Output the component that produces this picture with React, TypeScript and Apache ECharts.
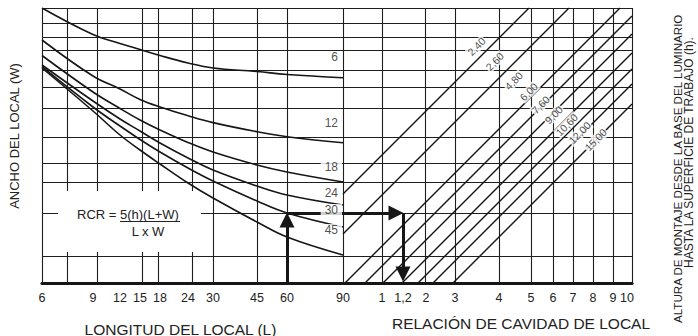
import React, { useEffect, useRef } from 'react';
import * as echarts from 'echarts';

// ---------- printed scales ----------
const lengthTicks = [6, 9, 12, 15, 18, 24, 30, 45, 60, 90];
const rcrTicks = [1, 1.2, 2, 3, 4, 5, 6, 7, 8, 9, 10];
const rcrTickText = ['1', '1,2', '2', '3', '4', '5', '6', '7', '8', '9', '10'];

// ---------- room-width curves (W), height read at each printed length tick ----------
const widthCurveNames = ['6', '12', '18', '24', '30', '45'];
const curveW6 = [275, 248.5, 239.5, 233.5, 227.5, 220, 215, 211.5, 208.5, 205.3];
const curveW12 = [243, 207, 194, 183.5, 176, 167.3, 160.4, 151.3, 146.3, 140.3];
const curveW18 = [227.5, 191, 174.5, 163, 153, 140.5, 131, 118, 111, 101];
const curveW24 = [218, 182, 164, 152, 140, 125, 113, 97, 88, 78];
const curveW30 = [216.3, 176, 157, 143.5, 131, 115, 102, 82, 70, 56];
const curveW45 = [215, 172, 148, 133, 119, 100, 85, 61, 46, 28];
const widthCurves = [curveW6, curveW12, curveW18, curveW24, curveW30, curveW45];
const widthLabelHeight = [226, 160, 116, 90, 73, 53];

// ---------- mounting-height lines (h) ----------
const mountingHeights = ['2,40', '2,60', '4,80', '6,00', '7,60', '9,00', '10,60', '12,00', '15,00'];
const heightLineFoot = [212, 252, 303, 323, 341, 360, 376, 391, 411];
const heightLabelAt = [
  [434.7, 236.3], [453, 221.3], [472, 202], [487, 191], [499, 178],
  [512, 168], [525, 158], [538, 150], [554, 143],
];

// ---------- worked example ----------
const exampleLength = 60;
const exampleWidthIndex = 4; // curve "30"
const exampleRcr = 1.2;

// ---------- layout of the nomograph (axis units) ----------
const X_MAX = 590;
const Y_MAX = 275;
const SPLIT = 301;
const SCALE_L = [0, 51, 78, 98, 118, 146, 171, 215, 245, 301];
const SCALE_RCR = [340, 361, 384, 413, 457, 489, 511, 531, 551, 571, 590];
const LAST_LABEL_SHIFT = -5;
const GRID_X = [25, 55, 100, 116, 150, 171, 215, 245, 340, 383, 413, 457, 489, 511, 531, 551, 571];
const GRID_Y = [260, 246, 233, 213, 196, 175, 146, 120, 101, 70, 27];

const xL = (v: number) => SCALE_L[lengthTicks.indexOf(v)];
const xR = (v: number) => SCALE_RCR[rcrTicks.indexOf(v)];

const FONT = '"Liberation Sans", Arial, Helvetica, sans-serif';
const INK = '#161616';

export default function App() {
  const ref = useRef<HTMLDivElement>(null);
  useEffect(() => {
    if (!ref.current) return;
    const chart = echarts.init(ref.current, null, { renderer: 'svg' });

    const labelMap: Record<string, string> = {};
    const rcrLabelPos = SCALE_RCR.map((p, i) => (i === SCALE_RCR.length - 1 ? p + LAST_LABEL_SHIFT : p));
    lengthTicks.forEach((v, i) => (labelMap[String(SCALE_L[i])] = String(v)));
    rcrTicks.forEach((v, i) => (labelMap[String(rcrLabelPos[i])] = rcrTickText[i]));
    const customValues = [...SCALE_L, ...rcrLabelPos];

    const gridLines: any[] = [];
    GRID_X.forEach((x) => gridLines.push({ coords: [[x, 0], [x, Y_MAX]] }));
    GRID_Y.forEach((y) => gridLines.push({ coords: [[0, y], [X_MAX, y]] }));
    gridLines.push({ coords: [[0, 0], [0, Y_MAX]] });
    gridLines.push({ coords: [[SPLIT, 0], [SPLIT, Y_MAX]] });
    gridLines.push({ coords: [[X_MAX, 0], [X_MAX, Y_MAX]] });
    gridLines.push({ coords: [[0, Y_MAX], [X_MAX, Y_MAX]] });

    const diag = (foot: number) => {
      const x1 = Math.max(SPLIT, foot);
      const y1 = x1 - foot;
      let x2 = foot + Y_MAX;
      let y2 = Y_MAX;
      if (x2 > X_MAX) {
        x2 = X_MAX;
        y2 = X_MAX - foot;
      }
      return [[x1, y1], [x2, y2]];
    };

    const exY = widthCurves[exampleWidthIndex][lengthTicks.indexOf(exampleLength)];
    const ex0 = xL(exampleLength);
    const ex1 = xR(exampleRcr);

    const curveSeries = widthCurves.map((c, k) => ({
      type: 'line',
      name: 'W ' + widthCurveNames[k],
      data: c.map((y, i) => [SCALE_L[i], y]),
      smooth: 0.4,
      showSymbol: false,
      symbol: 'none',
      lineStyle: { color: INK, width: 1.6 },
      z: 3,
    }));

    const option: any = {
      animation: false,
      grid: { left: 42, top: 8, width: X_MAX, height: Y_MAX, containLabel: false, outerBoundsMode: 'none' },
      xAxis: {
        type: 'value',
        min: 0,
        max: X_MAX,
        axisLine: { show: true, onZero: false, lineStyle: { color: INK, width: 3.2 } },
        axisTick: { show: false },
        splitLine: { show: false },
        axisLabel: {
          customValues,
          formatter: (v: number) => labelMap[String(v)] ?? '',
          color: '#222',
          fontSize: 12.5,
          fontFamily: FONT,
          margin: 8,
          showMinLabel: true,
          showMaxLabel: true,
          hideOverlap: false,
        },
      },
      yAxis: {
        type: 'value',
        min: 0,
        max: Y_MAX,
        show: false,
      },
      series: [
        {
          type: 'lines',
          coordinateSystem: 'cartesian2d',
          data: gridLines,
          lineStyle: { color: '#1e1e1e', width: 1.1, opacity: 1 },
          silent: true,
          z: 0,
        },
        {
          type: 'lines',
          coordinateSystem: 'cartesian2d',
          data: heightLineFoot.map((f, i) => ({ name: mountingHeights[i], coords: diag(f) })),
          lineStyle: { color: INK, width: 1.4, opacity: 1 },
          silent: true,
          z: 2,
        },
        ...curveSeries,
        {
          type: 'lines',
          coordinateSystem: 'cartesian2d',
          data: [
            { coords: [[ex0, 0], [ex0, exY - 7]] },
            { coords: [[ex0, exY], [ex1 - 7, exY]] },
            { coords: [[ex1, exY], [ex1, 9]] },
          ],
          symbol: ['none', 'triangle'],
          symbolSize: [0, 15],
          lineStyle: { color: INK, width: 3, opacity: 1 },
          z: 4,
        },
        {
          type: 'scatter',
          data: widthCurveNames.map((n, i) => ({ value: [SPLIT - 1, widthLabelHeight[i]], name: n })),
          symbolSize: 0,
          label: {
            show: true,
            position: 'left',
            distance: 0,
            formatter: (p: any) => p.name,
            fontSize: 12,
            fontFamily: FONT,
            color: '#222',
            backgroundColor: '#fff',
            padding: [0, 4, 0, 4],
          },
          z: 6,
        },
        {
          type: 'scatter',
          data: mountingHeights.map((n, i) => ({ value: heightLabelAt[i], name: n })),
          symbolSize: 0,
          label: {
            show: true,
            position: 'inside',
            formatter: (p: any) => p.name,
            rotate: 45,
            fontSize: 10.5,
            fontFamily: FONT,
            color: '#222',
            backgroundColor: '#fff',
            padding: [0, 1, 0, 1],
          },
          z: 6,
        },
      ],
      graphic: [
        { type: 'rect', shape: { x: 58, y: 191, width: 143, height: 61 }, style: { fill: '#fff' }, z: 1 },
        {
          type: 'text', x: 77, y: 214, z: 5,
          style: { text: 'RCR = 5(h)(L+W)', fontSize: 13, fontFamily: FONT, fill: '#222', align: 'left', verticalAlign: 'middle' },
        },
        { type: 'line', shape: { x1: 120, y1: 221.5, x2: 180, y2: 221.5 }, style: { stroke: '#222', lineWidth: 1 }, z: 5 },
        {
          type: 'text', x: 148, y: 231, z: 5,
          style: { text: 'L x W', fontSize: 13, fontFamily: FONT, fill: '#222', align: 'center', verticalAlign: 'middle' },
        },
        {
          type: 'text', x: 14, y: 136, rotation: Math.PI / 2, z: 5,
          style: { text: 'ANCHO DEL LOCAL (W)', fontSize: 13, fontFamily: FONT, fill: '#222', align: 'center', verticalAlign: 'middle' },
        },
        {
          type: 'text', x: 180.5, y: 329, z: 5,
          style: { text: 'LONGITUD DEL LOCAL (L)', fontSize: 15.5, fontFamily: FONT, fill: '#222', align: 'center', verticalAlign: 'middle' },
        },
        {
          type: 'text', x: 521, y: 323, z: 5,
          style: { text: 'RELACIÓN DE CAVIDAD DE LOCAL', fontSize: 15.5, fontFamily: FONT, fill: '#222', align: 'center', verticalAlign: 'middle' },
        },
        {
          type: 'text', x: 677, y: 323, rotation: Math.PI / 2, z: 5,
          style: { text: 'ALTURA DE MONTAJE DESDE LA BASE DEL LUMINARIO', fontSize: 11.6, fontFamily: FONT, fill: '#222', align: 'left', verticalAlign: 'middle' },
        },
        {
          type: 'text', x: 689, y: 268, rotation: Math.PI / 2, z: 5,
          style: { text: 'HASTA LA SUPERFICIE DE TRABAJO (h).', fontSize: 12, fontFamily: FONT, fill: '#222', align: 'left', verticalAlign: 'middle' },
        },
      ],
    };
    chart.setOption(option);
    return () => chart.dispose();
  }, []);
  return <div ref={ref} style={{ position: 'fixed', left: 0, top: 0, width: 698, height: 336, background: '#fff' }} />;
}
